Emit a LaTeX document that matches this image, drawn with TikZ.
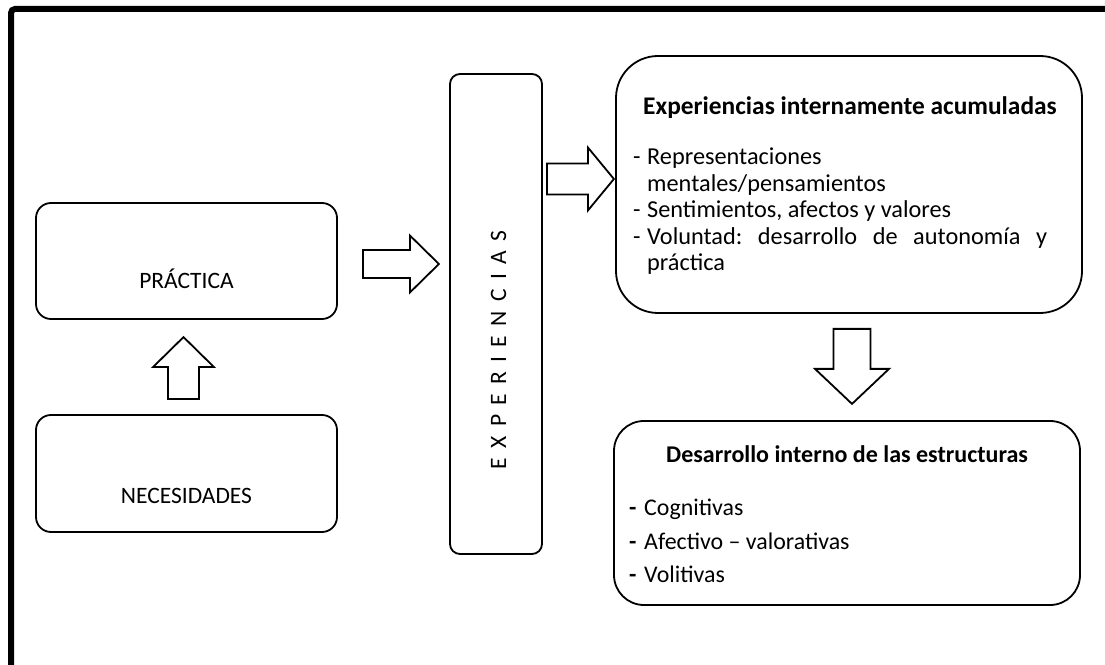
\documentclass[tikz,border=0pt]{standalone}
\usepackage{fontspec}
\setmainfont{Carlito}
\usetikzlibrary{calc}

% Block arrow: #1 tail, #2 direction (deg), #3 length, #4 half shaft width,
% #5 half head width, #6 head length
\newcommand\blockarrow[6]{%
  \begin{scope}[shift={(#1)}, rotate=#2]
    \draw[blockarrow] (0,-#4) -- ({#3-#6},-#4) -- ({#3-#6},-#5) -- (#3,0)
      -- ({#3-#6},#5) -- ({#3-#6},#4) -- (0,#4) -- cycle;
  \end{scope}}

% normal interword spacing inside left-aligned multi-line nodes
\newcommand\plainspaces{\spaceskip=0pt\xspaceskip=0pt\frenchspacing}

\begin{document}
\begin{tikzpicture}[x=1pt, y=1pt,
  box/.style={draw, line width=1.8pt, rounded corners=#1, inner sep=0pt},
  box/.default=12pt,
  blockarrow/.style={draw, line width=1.8pt, fill=white, line join=miter},
  lbl/.style={inner sep=0pt, font=\fontsize{23.5}{28}\selectfont},
  ttl/.style={inner sep=0pt, font=\fontsize{#1}{28}\selectfont\bfseries},
  lst/.style={inner sep=0pt, align=left, text width=#1}]

\useasboundingbox (0,0) rectangle (1105,664);
\fill[white] (0,0) rectangle (1105,664);

% outer frame (left and top edges)
\draw[line width=6pt, rounded corners=4pt] (11,-20) -- (11,655) -- (1125,655);

% left column
\node[box=15pt, minimum width=301pt, minimum height=116pt] (prac) at (186.5,403) {};
\node[lbl, anchor=base] (practxt) at ($(prac.center)+(0,-28)$) {PRÁCTICA};

\node[box=15pt, minimum width=301pt, minimum height=117pt] (nec) at (186.5,190.5) {};
\node[lbl, anchor=base] (nectxt) at ($(nec.center)+(0,-30.5)$) {NECESIDADES};

% central column
\node[box=10pt, minimum width=92pt, minimum height=480pt] (exp) at (496,350) {};
\node[lbl, rotate=90, anchor=base] (exptxt) at (506,314)
  {\addfontfeature{LetterSpace=40}EXPERIENCIAS};

% right column
\node[box=42pt, minimum width=466pt, minimum height=257pt] (acum) at (849,479.5) {};
\node[ttl=25.4, anchor=base] (acumtit) at (850,549) {Experiencias internamente acumuladas};
\node[lst=420pt, anchor=base west, font=\fontsize{24.3}{26.5}\selectfont] (acumlst) at (633,499)
  {\plainspaces
   \makebox[14pt][l]{-}Representaciones\\
   \hspace*{14pt}mentales/pensamientos\\
   \makebox[14pt][l]{-}Sentimientos, afectos y valores\\
   \makebox[14pt][l]{-}\makebox[400pt][s]{Voluntad: desarrollo de autonomía y}\\
   \hspace*{14pt}práctica};

\node[box=30pt, minimum width=466pt, minimum height=184pt] (estr) at (847,151) {};
\node[ttl=24, anchor=base] (estrtit) at (847,201) {Desarrollo interno de las estructuras};
\node[lst=420pt, anchor=base west, font=\fontsize{23.9}{33.5}\selectfont] (estrlst) at (629,148)
  {\plainspaces
   \makebox[15pt][l]{\bfseries -}Cognitivas\\
   \makebox[15pt][l]{\bfseries -}Afectivo – valorativas\\
   \makebox[15pt][l]{\bfseries -}Volitivas};

% block arrows between the boxes
\coordinate (t1) at ($(nec.north)+(-3,15)$);
\blockarrow{t1}{90}{62}{15.5}{30.5}{30}
\coordinate (t2) at ($(prac.east)+(25,-3)$);
\blockarrow{t2}{0}{76}{14}{28.5}{29}
\coordinate (t3) at ($(exp.east)+(4,135)$);
\blockarrow{t3}{0}{67}{15.5}{31.5}{26}
\coordinate (t4) at ($(acum.south)+(3,-15)$);
\blockarrow{t4}{-90}{75}{18.5}{37}{35}

\end{tikzpicture}
\end{document}
